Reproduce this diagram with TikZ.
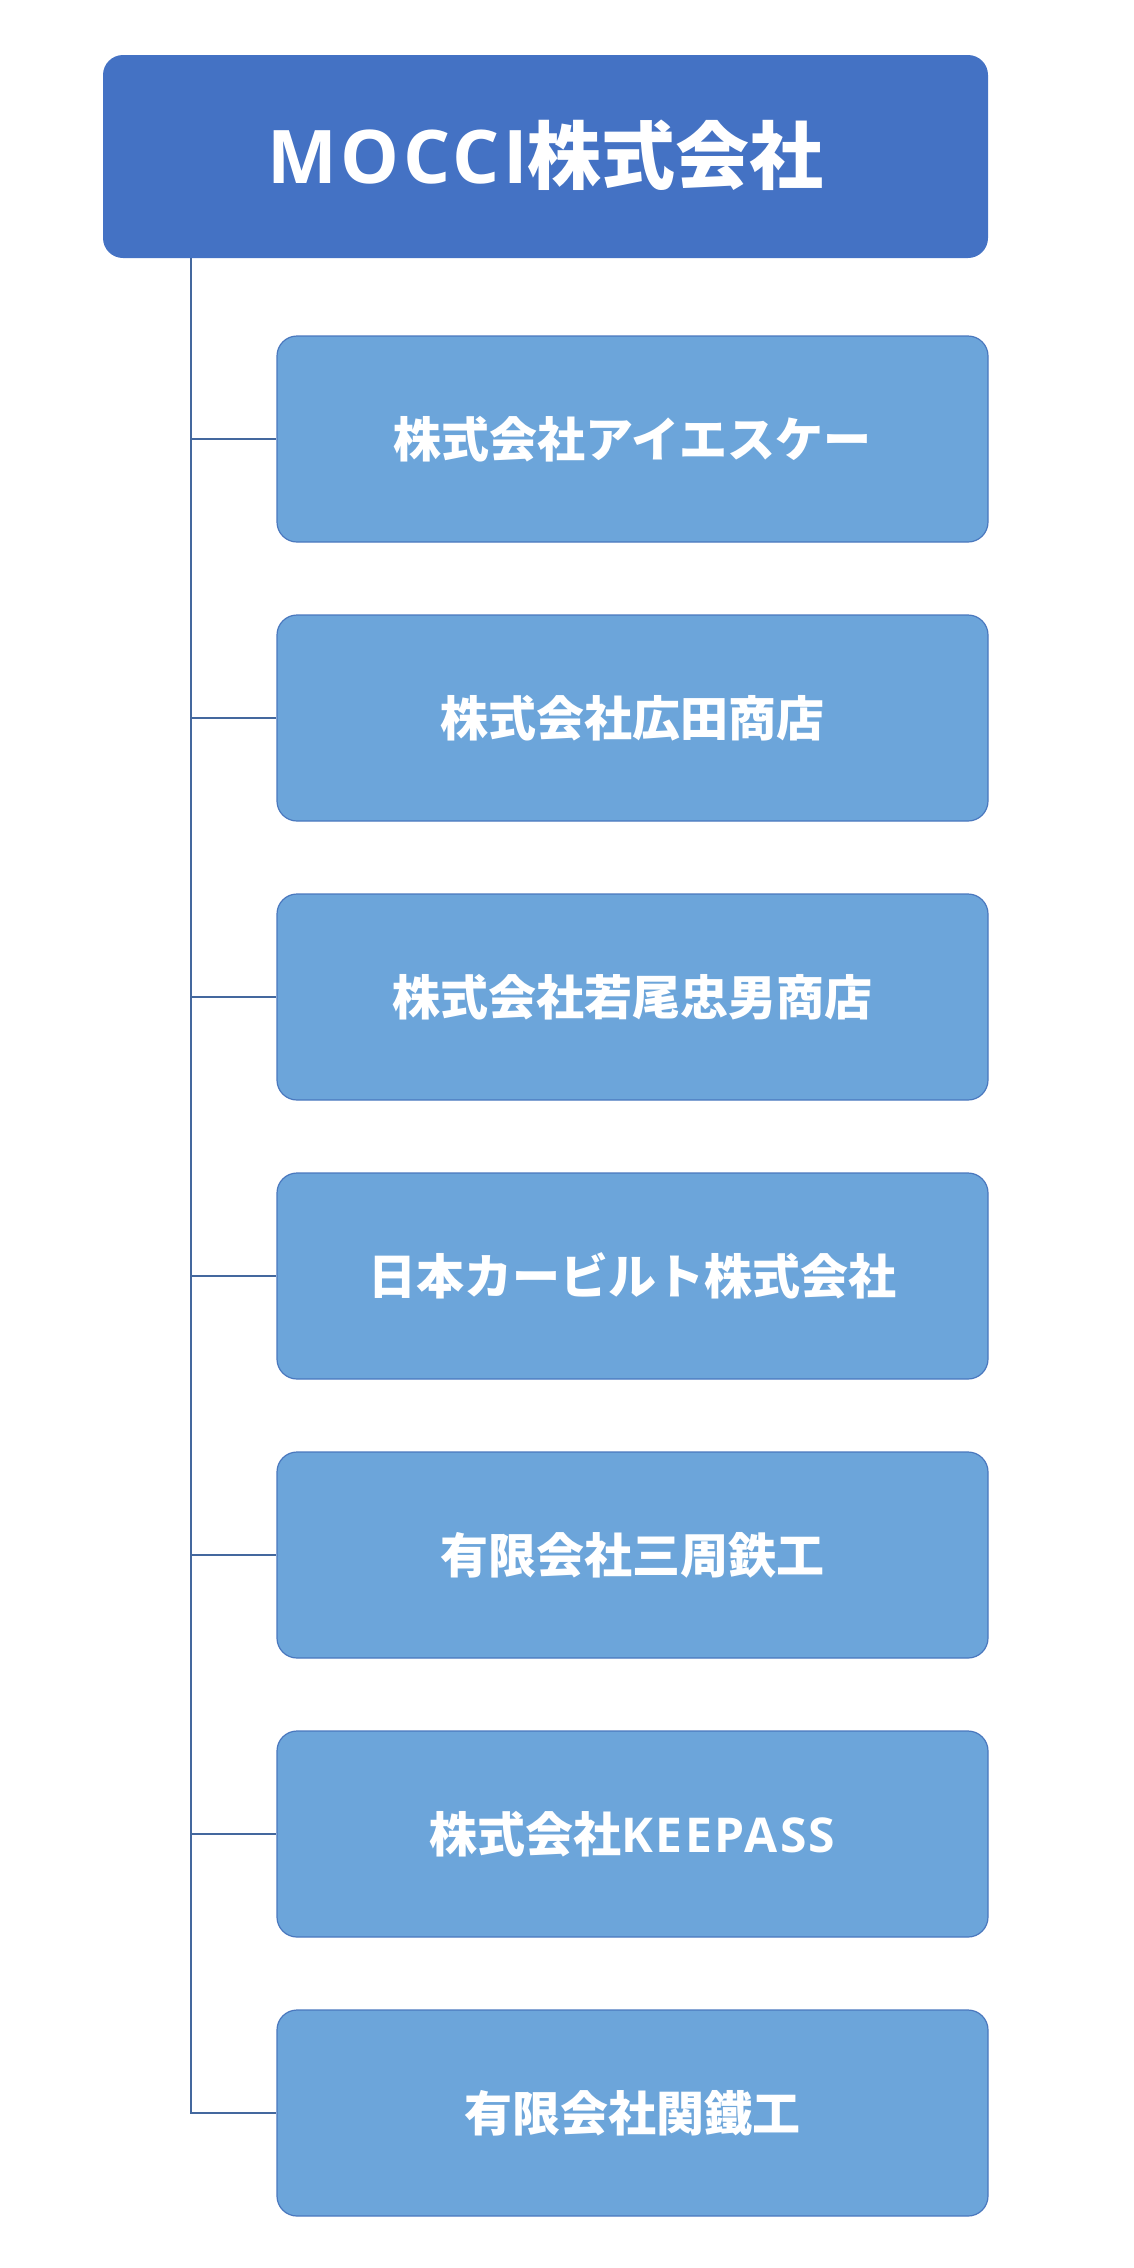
\documentclass[tikz,border=0pt]{standalone}
\usepackage{fontspec}
\newfontfamily\jp{Noto Sans CJK JP}
\newfontfamily\lat{Open Sans}
\definecolor{topblue}{HTML}{4472C4}
\definecolor{childblue}{HTML}{6CA5DA}
\definecolor{childedge}{HTML}{4A78BE}
\definecolor{linecol}{HTML}{44689E}
\tikzset{
  topbox/.style={fill=topblue, draw=none, rounded corners=20pt, minimum width=885pt, minimum height=203pt, inner sep=0pt, text=white, font=\jp\bfseries\fontsize{74}{80}\selectfont},
  childbox/.style={fill=childblue, draw=childedge, line width=1.2pt, rounded corners=20pt, minimum width=711pt, minimum height=206pt, inner sep=0pt, text=white, font=\jp\bfseries\fontsize{48}{54}\selectfont},
  conn/.style={draw=linecol, line width=1.4pt}
}
\newcommand{\latw}[1]{{\lat\bfseries\addfontfeatures{LetterSpace=5}#1}}
\begin{document}
\begin{tikzpicture}[x=1pt,y=-1pt]
\useasboundingbox (0,0) rectangle (1134,2268);
\node[topbox] (top) at (545.5,156.5) {\raisebox{9pt}{\latw{MOCCI}株式会社}};
\node[childbox] (c1) at (632.5,439) {株式会社アイエスケー};
\node[childbox] (c2) at (632.5,718) {株式会社広田商店};
\node[childbox] (c3) at (632.5,997) {株式会社若尾忠男商店};
\node[childbox] (c4) at (632.5,1276) {日本カービルト株式会社};
\node[childbox] (c5) at (632.5,1555) {有限会社三周鉄工};
\node[childbox] (c6) at (632.5,1834) {株式会社\latw{KEEPASS}};
\node[childbox] (c7) at (632.5,2113) {有限会社関鐵工};
\coordinate (tk) at (191,258);
\draw[conn] (tk) -- (tk |- c7.west) -- (c7.west);
\foreach \c in {c1,c2,c3,c4,c5,c6} {
  \draw[conn] (tk |- \c.west) -- (\c.west);
}
\end{tikzpicture}
\end{document}
